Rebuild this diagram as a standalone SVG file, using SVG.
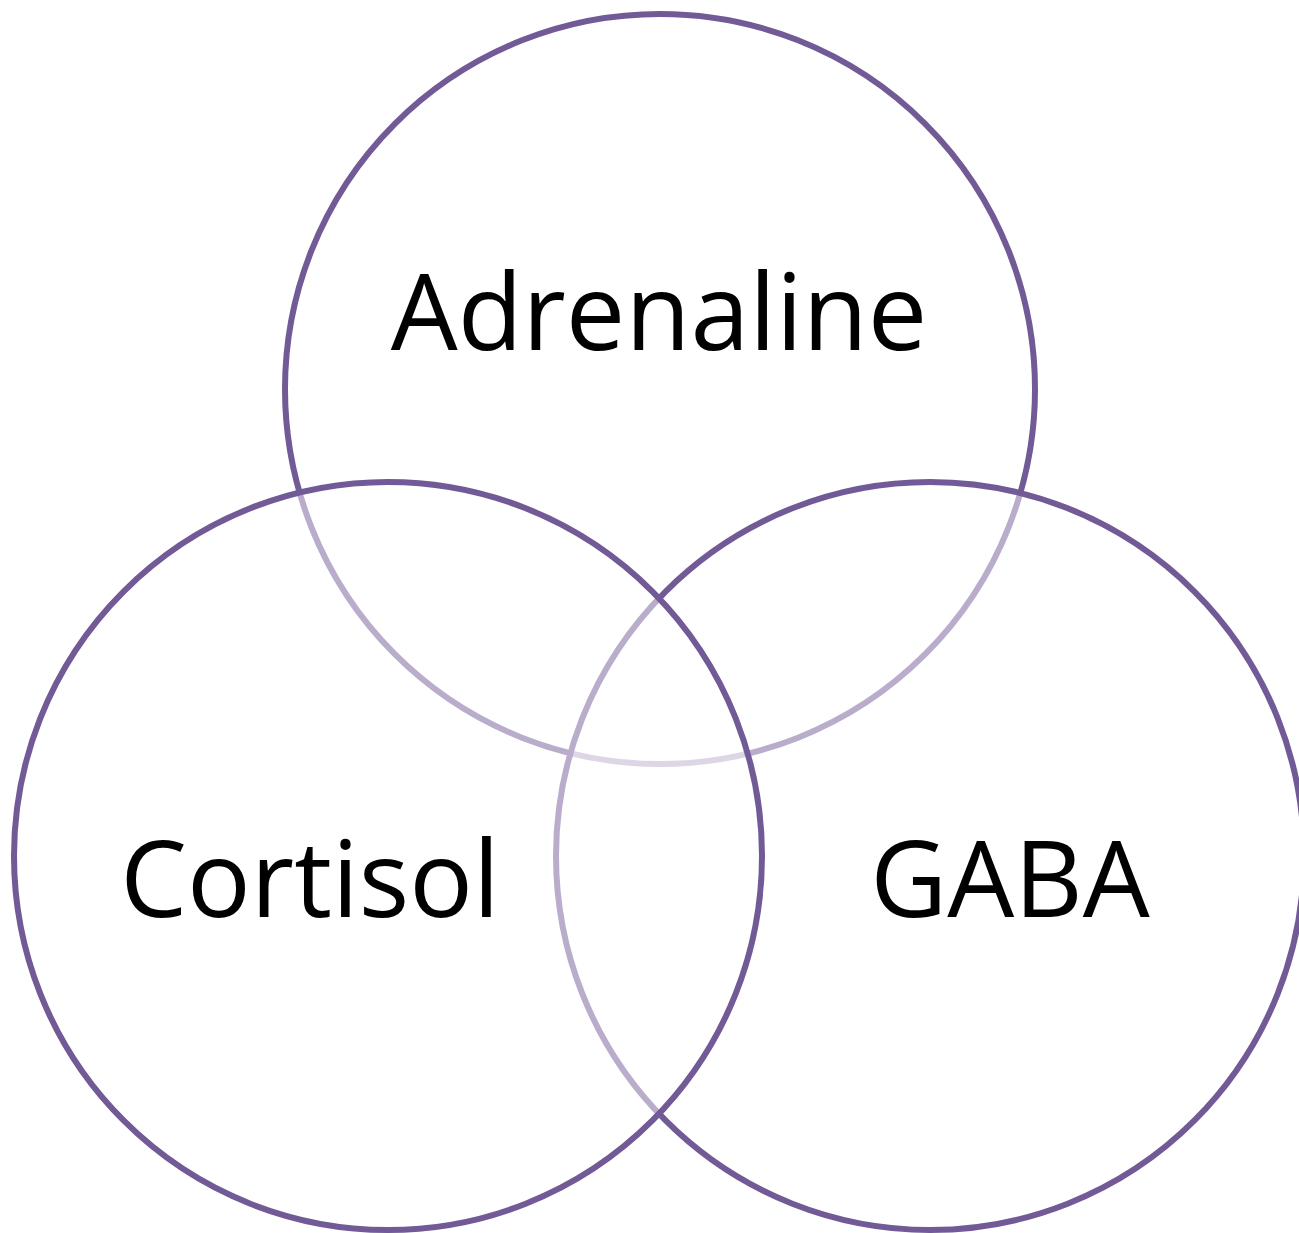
<svg xmlns="http://www.w3.org/2000/svg" width="1299" height="1233" viewBox="0 0 1299 1233">
<style>
.c{fill:#ffffff;fill-opacity:0.5;stroke:#725A96;stroke-width:6}
.t{font-family:"Open Sans","Liberation Sans",sans-serif;font-size:106px;fill:#000;text-anchor:middle}
</style>
<rect width="1299" height="1233" fill="#fff"/>
<g id="adrenaline"><circle class="c" cx="660" cy="389" r="375"/></g>
<g id="gaba"><circle class="c" cx="930" cy="856" r="374"/></g>
<g id="cortisol"><circle class="c" cx="388" cy="856" r="374"/></g>
<g id="labels">
<text class="t" x="659" y="350">Adrenaline</text>
<text class="t" x="310" y="917">Cortisol</text>
<text class="t" x="1010" y="917">GABA</text>
</g>
<g id="connectors"/>
</svg>
